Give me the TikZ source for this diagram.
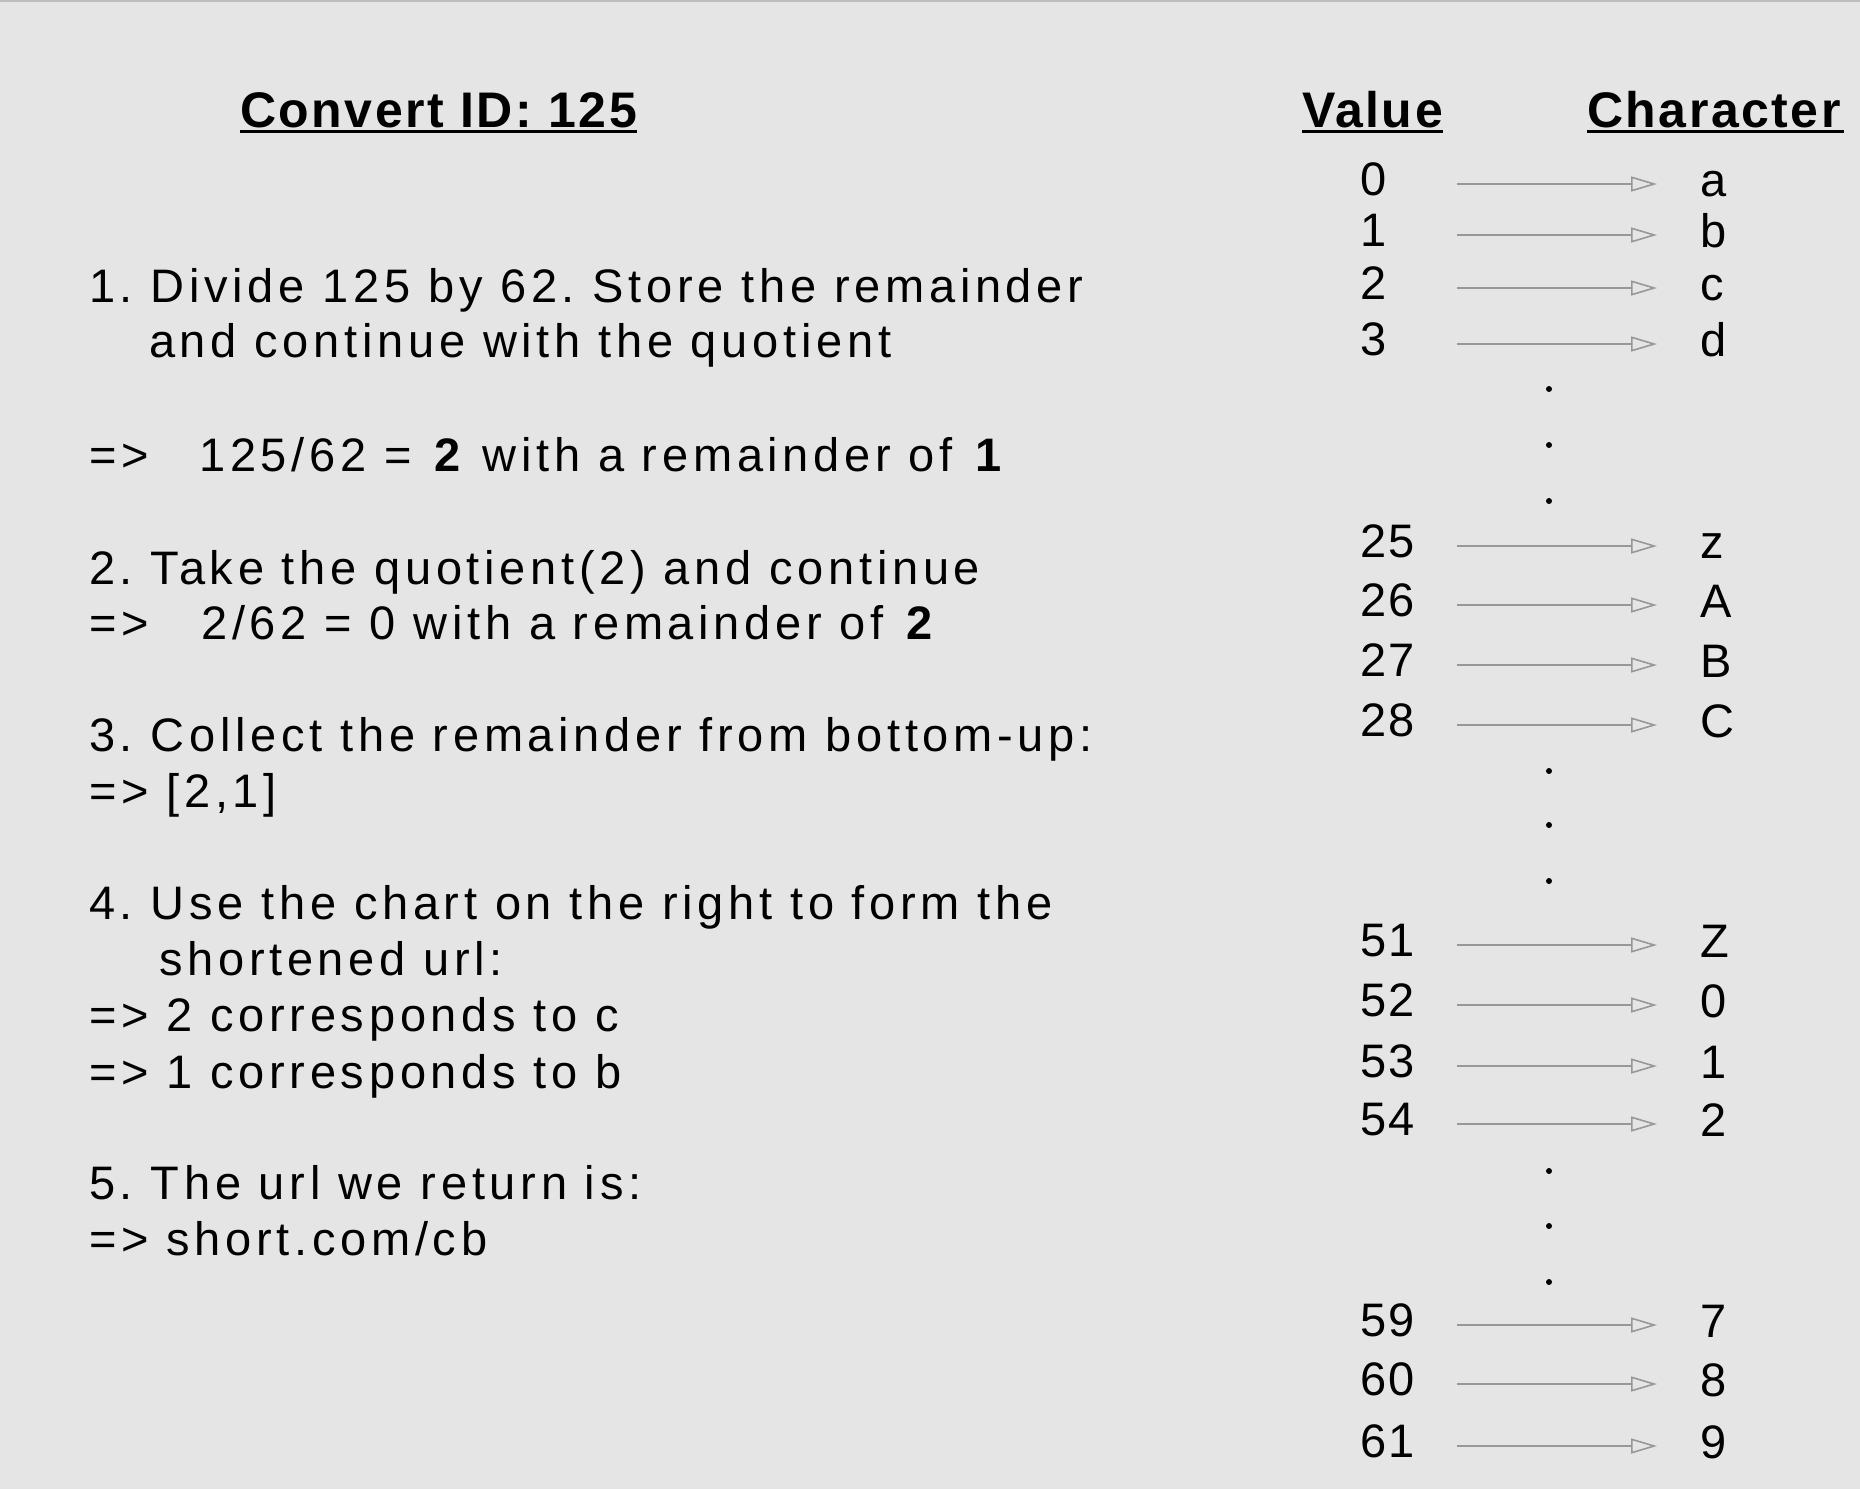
\documentclass[tikz,border=0pt]{standalone}
\usepackage{fontspec}
\setmainfont{Liberation Sans}
\newfontfamily\bodyfont{Liberation Sans}[LetterSpace=10]
\newfontfamily\headfont{Liberation Sans}[LetterSpace=5]
\newfontfamily\colfont{Liberation Sans}[LetterSpace=4]
\usetikzlibrary{arrows.meta}
\definecolor{bg}{RGB}{229,229,229}
\definecolor{arrowgray}{RGB}{152,152,152}
\definecolor{topline}{RGB}{190,190,190}
\begin{document}
\frenchspacing
\begin{tikzpicture}[x=1pt,y=-1pt,
  txt/.style={anchor=base west,inner sep=0pt,font={\bodyfont\fontsize{47}{56}\selectfont\frenchspacing}},
  headtxt/.style={anchor=base west,inner sep=0pt,font={\headfont\bfseries\fontsize{50}{60}\selectfont}},
  valtxt/.style={anchor=base west,inner sep=0pt,font={\colfont\fontsize{47}{56}\selectfont}},
  chrtxt/.style={anchor=base west,inner sep=0pt,font={\colfont\fontsize{47}{56}\selectfont}},
  uline/.style={line width=3pt},
  map/.style={draw=arrowgray,line width=1.6pt,-{Triangle[open,length=26pt,width=15pt]}},
  dot/.style={fill=black}]
\useasboundingbox (0,0) rectangle (1860,1489);
\fill[bg] (0,0) rectangle (1860,1489);
\draw[topline,line width=2pt] (0,1) -- (1860,1);

% headings
\node[headtxt] (title) at (240,127) {Convert ID: 125};
\node[headtxt] (hval) at (1302,127) {Value};
\node[headtxt] (hchr) at (1587,127) {Character};
\draw[uline] ([yshift=-4pt]title.base west) -- ([yshift=-4pt]title.base east);
\draw[uline] ([yshift=-4pt]hval.base west) -- ([yshift=-4pt]hval.base east);
\draw[uline] ([yshift=-4pt]hchr.base west) -- ([yshift=-4pt,xshift=3pt]hchr.base east);

% left text
\node[txt] (l1) at (89,302) {1. Divide 125 by 62. Store the remainder};
\node[txt] (l2) at (149,357) {and continue with the quotient};
\node[txt] (l3) at (89,471) {\makebox[110pt][l]{=>}125/62 = \textbf{2} with a remainder of \textbf{1}};
\node[txt] (l4) at (89,584) {2. Take the quotient(2) and continue};
\node[txt] (l5) at (89,639) {\makebox[112pt][l]{=>}2/62 = 0 with a remainder of \textbf{2}};
\node[txt] (l6) at (89,751) {3. Collect the remainder from bottom-up:};
\node[txt] (l7) at (89,807) {=> [2,1]};
\node[txt] (l8) at (89,919) {4. Use the chart on the right to form the};
\node[txt] (l9) at (159,975) {shortened url:};
\node[txt] (l10) at (89,1031) {=> 2 corresponds to c};
\node[txt] (l11) at (89,1088) {=> 1 corresponds to b};
\node[txt] (l12) at (89,1199) {5. The url we return is:};
\node[txt] (l13) at (89,1255) {=> short.com/cb};

% chart rows
\foreach \v/\y/\c in {0/184/a,1/235/b,2/288/c,3/344/d,
                      25/546/z,26/605/A,27/665/B,28/725/C,
                      51/945/Z,52/1005/0,53/1066/1,54/1124/2,
                      59/1325/7,60/1384/8,61/1446/9}{
  \node[valtxt] (v\v) at (1360,\y+11) {\v};
  \node[chrtxt] (c\v) at (1700,\y+12) {\c};
  \coordinate (s\v) at (1457,\y);
  \coordinate (e\v) at (1657,\y);
  \draw[map] (s\v) -- (e\v);
}

% ellipsis dots
\foreach \y in {389,445,501,771,825,881,1171,1226,1282}{
  \fill[dot] (1549,\y) circle (3pt);
}
\end{tikzpicture}
\end{document}
